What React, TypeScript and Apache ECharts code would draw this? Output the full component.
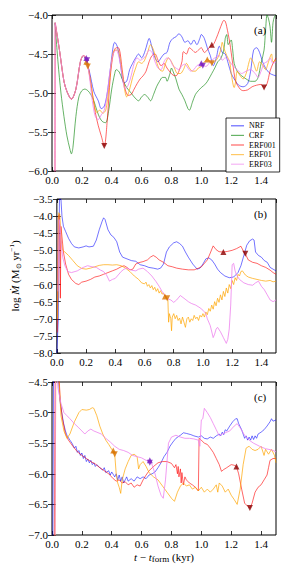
import React, { useEffect, useRef } from 'react';
import * as echarts from 'echarts';

const MODELS = ['NRF', 'CRF', 'ERF001', 'ERF01', 'ERF03'];
const PANEL_LABELS = ['(a)', '(b)', '(c)'];
const X_RANGE = [0, 1.5];
const Y_RANGES = [[-6.0, -4.0], [-8.0, -3.5], [-7.0, -4.5]];

// Panel (a)
const A_NRF = [[0.02,-4.1],[0.05,-4.45],[0.08,-4.85],[0.1,-4.98],[0.13,-5.08],[0.16,-4.95],[0.19,-4.6],[0.21,-4.52],[0.23,-4.6],[0.25,-4.72],[0.28,-4.98],[0.31,-5.1],[0.33,-5.2],[0.35,-5.17],[0.37,-5.0],[0.39,-4.7],[0.41,-4.4],[0.42,-4.35],[0.44,-4.42],[0.46,-4.65],[0.48,-4.87],[0.5,-4.85],[0.52,-4.7],[0.54,-4.62],[0.56,-4.55],[0.58,-4.5],[0.6,-4.55],[0.62,-4.48],[0.64,-4.35],[0.65,-4.3],[0.67,-4.42],[0.69,-4.55],[0.71,-4.6],[0.73,-4.55],[0.75,-4.5],[0.77,-4.48],[0.79,-4.35],[0.81,-4.3],[0.83,-4.28],[0.85,-4.24],[0.87,-4.28],[0.89,-4.35],[0.91,-4.33],[0.93,-4.38],[0.95,-4.32],[0.97,-4.38],[0.99,-4.3],[1.0,-4.25],[1.02,-4.3],[1.04,-4.42],[1.06,-4.52],[1.08,-4.65],[1.1,-4.55],[1.12,-4.4],[1.14,-4.48],[1.16,-4.5],[1.18,-4.62],[1.2,-4.75],[1.22,-4.82],[1.25,-4.9],[1.28,-4.92],[1.31,-4.88],[1.33,-4.72],[1.35,-4.45],[1.37,-4.42],[1.39,-4.48],[1.41,-4.6],[1.43,-4.68],[1.46,-4.75],[1.5,-4.78]];
const A_CRF = [[0.02,-4.1],[0.04,-4.6],[0.06,-5.0],[0.08,-5.3],[0.1,-5.55],[0.12,-5.72],[0.13,-5.78],[0.14,-5.7],[0.16,-5.3],[0.18,-5.05],[0.2,-4.97],[0.22,-4.95],[0.24,-4.97],[0.26,-5.02],[0.28,-5.1],[0.3,-5.22],[0.32,-5.32],[0.34,-5.37],[0.36,-5.38],[0.38,-5.22],[0.4,-4.95],[0.42,-4.75],[0.43,-4.7],[0.45,-4.73],[0.47,-4.82],[0.5,-4.93],[0.53,-5.0],[0.55,-5.05],[0.58,-5.1],[0.6,-5.05],[0.62,-5.02],[0.64,-5.05],[0.66,-5.1],[0.68,-5.02],[0.7,-4.92],[0.72,-4.85],[0.74,-4.8],[0.76,-4.8],[0.77,-4.85],[0.79,-4.75],[0.8,-4.68],[0.81,-4.72],[0.83,-4.82],[0.85,-4.95],[0.87,-5.02],[0.89,-5.1],[0.91,-5.2],[0.92,-5.22],[0.94,-5.12],[0.96,-5.02],[0.98,-4.97],[1.0,-4.93],[1.03,-4.88],[1.05,-4.82],[1.07,-4.75],[1.09,-4.68],[1.11,-4.6],[1.13,-4.56],[1.15,-4.45],[1.16,-4.3],[1.17,-4.25],[1.18,-4.38],[1.19,-4.35],[1.2,-4.32],[1.21,-4.45],[1.22,-4.62],[1.24,-4.72],[1.27,-4.78],[1.3,-4.82],[1.33,-4.85],[1.36,-4.85],[1.38,-4.8],[1.4,-4.62],[1.42,-4.45],[1.43,-4.2],[1.44,-4.0],[1.45,-4.05],[1.46,-4.15],[1.47,-4.35],[1.48,-4.1],[1.49,-4.02],[1.5,-4.0]];
const A_ERF001 = [[0.02,-6.5],[0.022,-4.1],[0.05,-4.45],[0.08,-4.85],[0.1,-4.98],[0.13,-5.08],[0.16,-4.95],[0.19,-4.6],[0.21,-4.52],[0.23,-4.55],[0.25,-4.75],[0.27,-5.0],[0.29,-5.25],[0.31,-5.42],[0.33,-5.55],[0.35,-5.68],[0.37,-5.35],[0.39,-4.8],[0.41,-4.5],[0.43,-4.42],[0.45,-4.43],[0.47,-4.7],[0.49,-4.95],[0.51,-5.03],[0.53,-5.02],[0.55,-4.95],[0.57,-4.88],[0.59,-4.82],[0.61,-4.78],[0.63,-4.72],[0.65,-4.6],[0.67,-4.52],[0.69,-4.5],[0.71,-4.58],[0.73,-4.65],[0.75,-4.62],[0.77,-4.68],[0.79,-4.73],[0.81,-4.77],[0.83,-4.78],[0.85,-4.72],[0.87,-4.6],[0.88,-4.47],[0.9,-4.5],[0.92,-4.42],[0.94,-4.45],[0.96,-4.48],[0.98,-4.45],[1.0,-4.42],[1.02,-4.48],[1.04,-4.45],[1.06,-4.4],[1.08,-4.38],[1.1,-4.3],[1.12,-4.2],[1.14,-4.1],[1.15,-4.07],[1.16,-4.08],[1.17,-4.15],[1.19,-4.35],[1.21,-4.62],[1.23,-4.85],[1.26,-4.95],[1.28,-4.97],[1.31,-4.96],[1.34,-4.92],[1.37,-4.9],[1.4,-4.89],[1.42,-4.93],[1.44,-4.88],[1.46,-4.72],[1.48,-4.62],[1.5,-4.55]];
const A_ERF01 = [[0.02,-4.1],[0.05,-4.45],[0.08,-4.85],[0.1,-4.98],[0.13,-5.08],[0.16,-4.95],[0.19,-4.6],[0.21,-4.52],[0.23,-4.58],[0.24,-4.65],[0.26,-4.88],[0.28,-5.12],[0.3,-5.25],[0.32,-5.22],[0.34,-5.26],[0.36,-5.22],[0.38,-4.95],[0.4,-4.58],[0.42,-4.45],[0.44,-4.45],[0.46,-4.62],[0.48,-4.88],[0.5,-5.05],[0.52,-4.95],[0.54,-4.8],[0.56,-4.68],[0.58,-4.6],[0.6,-4.62],[0.62,-4.58],[0.64,-4.48],[0.66,-4.38],[0.68,-4.45],[0.7,-4.6],[0.72,-4.7],[0.74,-4.72],[0.76,-4.62],[0.78,-4.55],[0.8,-4.6],[0.82,-4.68],[0.84,-4.75],[0.86,-4.75],[0.88,-4.7],[0.9,-4.62],[0.92,-4.68],[0.94,-4.72],[0.96,-4.72],[0.98,-4.68],[1.0,-4.66],[1.02,-4.6],[1.04,-4.57],[1.06,-4.6],[1.07,-4.62],[1.09,-4.6],[1.11,-4.55],[1.13,-4.45],[1.14,-4.35],[1.15,-4.42],[1.17,-4.52],[1.19,-4.6],[1.2,-4.75],[1.22,-4.93],[1.23,-4.85],[1.24,-4.72],[1.26,-4.78],[1.28,-4.82],[1.3,-4.75],[1.32,-4.6],[1.33,-4.55],[1.35,-4.62],[1.37,-4.72],[1.39,-4.6],[1.41,-4.64],[1.43,-4.7],[1.45,-4.6],[1.47,-4.5],[1.48,-4.6],[1.5,-4.58]];
const A_ERF03 = [[0.02,-6.5],[0.021,-4.1],[0.05,-4.45],[0.08,-4.85],[0.1,-4.98],[0.13,-5.08],[0.16,-4.95],[0.19,-4.6],[0.21,-4.52],[0.23,-4.56],[0.25,-4.78],[0.27,-5.1],[0.29,-5.3],[0.31,-5.34],[0.33,-5.28],[0.35,-5.22],[0.37,-5.0],[0.39,-4.7],[0.41,-4.5],[0.43,-4.45],[0.45,-4.55],[0.47,-4.78],[0.49,-4.95],[0.51,-4.9],[0.53,-4.78],[0.55,-4.62],[0.57,-4.55],[0.59,-4.58],[0.61,-4.56],[0.63,-4.52],[0.65,-4.45],[0.67,-4.48],[0.69,-4.6],[0.71,-4.68],[0.73,-4.7],[0.75,-4.6],[0.77,-4.55],[0.79,-4.57],[0.81,-4.65],[0.83,-4.68],[0.85,-4.7],[0.87,-4.65],[0.89,-4.63],[0.91,-4.68],[0.93,-4.72],[0.95,-4.7],[0.97,-4.65],[1.0,-4.63],[1.03,-4.66],[1.06,-4.6],[1.09,-4.55],[1.12,-4.52],[1.14,-4.58],[1.16,-4.55],[1.18,-4.57],[1.21,-4.65],[1.24,-4.7],[1.27,-4.75],[1.3,-4.72],[1.33,-4.7],[1.36,-4.75],[1.38,-4.8],[1.4,-4.72],[1.42,-4.62],[1.44,-4.6],[1.46,-4.55],[1.48,-4.62],[1.5,-4.6]];

// Panel (b)
const B_NRF = [[0.0,-8.0],[0.01,-7.0],[0.018,-3.5],[0.028,-3.5],[0.035,-4.0],[0.045,-4.3],[0.06,-4.45],[0.08,-4.65],[0.1,-4.8],[0.12,-4.9],[0.15,-4.93],[0.18,-4.9],[0.2,-4.87],[0.22,-4.9],[0.25,-4.88],[0.27,-4.7],[0.29,-4.4],[0.31,-4.15],[0.32,-4.05],[0.33,-4.1],[0.35,-4.4],[0.37,-4.55],[0.39,-4.62],[0.41,-4.75],[0.43,-5.05],[0.45,-5.2],[0.48,-5.25],[0.51,-5.3],[0.54,-5.32],[0.57,-5.42],[0.6,-5.45],[0.63,-5.5],[0.66,-5.52],[0.69,-5.55],[0.71,-5.52],[0.73,-5.4],[0.75,-5.05],[0.77,-4.9],[0.8,-4.78],[0.82,-4.75],[0.84,-4.8],[0.86,-4.88],[0.88,-5.05],[0.9,-5.2],[0.93,-5.4],[0.96,-5.55],[0.98,-5.52],[1.0,-5.4],[1.02,-5.25],[1.04,-5.22],[1.06,-5.28],[1.08,-5.4],[1.1,-5.55],[1.12,-5.65],[1.15,-5.75],[1.18,-5.8],[1.21,-5.78],[1.24,-5.65],[1.26,-5.45],[1.28,-5.15],[1.3,-4.85],[1.32,-4.72],[1.34,-4.67],[1.35,-4.7],[1.36,-5.05],[1.38,-5.15],[1.4,-5.2],[1.42,-5.3],[1.44,-5.35],[1.46,-5.5],[1.48,-5.55],[1.5,-5.6]];
const B_ERF001 = [[0.003,-7.4],[0.01,-4.0],[0.016,-3.95],[0.02,-4.4],[0.024,-6.4],[0.028,-4.3],[0.035,-4.6],[0.045,-5.05],[0.06,-5.4],[0.08,-5.7],[0.1,-5.85],[0.13,-5.97],[0.15,-6.0],[0.17,-5.93],[0.2,-5.9],[0.23,-5.85],[0.26,-5.78],[0.29,-5.75],[0.32,-5.7],[0.35,-5.65],[0.38,-5.6],[0.41,-5.55],[0.44,-5.48],[0.46,-5.45],[0.48,-5.5],[0.5,-5.57],[0.52,-5.55],[0.54,-5.4],[0.56,-5.36],[0.59,-5.33],[0.62,-5.28],[0.64,-5.2],[0.66,-5.15],[0.68,-5.2],[0.7,-5.28],[0.73,-5.35],[0.76,-5.45],[0.79,-5.48],[0.82,-5.52],[0.86,-5.55],[0.9,-5.57],[0.94,-5.57],[0.97,-5.52],[0.99,-5.48],[1.01,-5.38],[1.03,-5.28],[1.05,-5.08],[1.07,-4.87],[1.09,-4.98],[1.11,-5.04],[1.14,-5.05],[1.17,-5.03],[1.2,-5.0],[1.23,-4.95],[1.26,-4.88],[1.28,-5.05],[1.29,-5.1],[1.31,-5.28],[1.34,-5.35],[1.37,-5.38],[1.4,-5.45],[1.43,-5.5],[1.46,-5.58],[1.48,-5.65],[1.5,-5.7]];
const B_ERF01 = [[0.005,-7.0],[0.013,-3.9],[0.02,-3.95],[0.025,-4.3],[0.03,-4.7],[0.04,-5.0],[0.055,-5.05],[0.08,-5.15],[0.11,-5.3],[0.14,-5.45],[0.17,-5.53],[0.2,-5.55],[0.23,-5.52],[0.26,-5.48],[0.29,-5.44],[0.32,-5.42],[0.35,-5.42],[0.38,-5.43],[0.41,-5.42],[0.44,-5.45],[0.47,-5.52],[0.5,-5.62],[0.53,-5.75],[0.56,-5.85],[0.58,-5.95],[0.6,-5.98],[0.61,-5.93],[0.62,-6.05],[0.63,-6.0],[0.64,-6.1],[0.65,-6.03],[0.66,-6.15],[0.67,-6.08],[0.68,-6.2],[0.69,-6.12],[0.7,-6.25],[0.71,-6.18],[0.72,-6.28],[0.73,-6.25],[0.74,-6.35],[0.75,-6.38],[0.76,-6.45],[0.765,-7.1],[0.77,-6.85],[0.78,-7.0],[0.785,-7.35],[0.79,-6.95],[0.8,-6.85],[0.81,-7.0],[0.82,-6.9],[0.83,-7.05],[0.84,-6.98],[0.85,-7.15],[0.86,-6.95],[0.87,-7.1],[0.88,-7.25],[0.89,-7.0],[0.9,-6.95],[0.91,-7.1],[0.92,-7.0],[0.93,-7.05],[0.94,-6.9],[0.95,-7.0],[0.96,-6.95],[0.97,-7.05],[0.98,-6.9],[0.99,-6.95],[1.0,-6.85],[1.01,-6.95],[1.02,-6.8],[1.03,-6.88],[1.04,-6.7],[1.05,-6.78],[1.06,-6.6],[1.07,-6.72],[1.08,-6.5],[1.09,-6.62],[1.1,-6.4],[1.11,-6.52],[1.12,-6.3],[1.13,-6.45],[1.14,-6.2],[1.15,-6.35],[1.16,-6.1],[1.17,-6.25],[1.18,-6.0],[1.19,-6.12],[1.2,-5.88],[1.21,-6.0],[1.22,-5.8],[1.23,-5.88],[1.24,-5.7],[1.25,-5.75],[1.26,-5.62],[1.27,-5.6],[1.29,-5.72],[1.31,-5.78],[1.34,-5.82],[1.37,-5.85],[1.4,-5.88],[1.43,-5.9],[1.46,-5.88],[1.48,-5.92],[1.5,-5.9]];
const B_ERF03 = [[0.008,-6.2],[0.016,-4.1],[0.022,-4.3],[0.03,-4.8],[0.04,-5.2],[0.055,-5.45],[0.075,-5.62],[0.1,-5.65],[0.14,-5.6],[0.18,-5.5],[0.21,-5.45],[0.24,-5.48],[0.27,-5.5],[0.3,-5.58],[0.32,-5.62],[0.34,-5.72],[0.36,-5.9],[0.38,-5.85],[0.4,-5.82],[0.42,-5.72],[0.44,-5.62],[0.46,-5.55],[0.48,-5.52],[0.51,-5.58],[0.54,-5.6],[0.56,-5.55],[0.59,-5.52],[0.62,-5.62],[0.65,-5.75],[0.68,-5.92],[0.7,-6.05],[0.72,-6.2],[0.74,-6.32],[0.76,-6.42],[0.78,-6.45],[0.8,-6.52],[0.82,-6.45],[0.845,-6.32],[0.87,-6.4],[0.9,-6.5],[0.92,-6.55],[0.95,-6.6],[0.98,-6.68],[1.0,-6.75],[1.02,-6.85],[1.03,-7.0],[1.05,-7.2],[1.07,-7.55],[1.08,-7.45],[1.09,-7.3],[1.1,-7.25],[1.12,-7.38],[1.14,-7.55],[1.16,-7.72],[1.17,-7.6],[1.18,-7.3],[1.19,-6.6],[1.2,-5.42],[1.21,-5.38],[1.22,-5.6],[1.23,-5.72],[1.25,-5.85],[1.28,-5.95],[1.31,-6.0],[1.34,-6.02],[1.36,-5.95],[1.38,-5.9],[1.4,-6.05],[1.42,-6.15],[1.44,-6.3],[1.46,-6.45],[1.48,-6.5],[1.5,-6.45]];

// Panel (c)
const C_NRF = [[0.005,-7.5],[0.011,-4.0],[0.04,-4.0],[0.045,-4.5],[0.05,-4.7],[0.056,-4.85],[0.065,-5.0],[0.078,-5.18],[0.09,-5.3],[0.1,-5.37],[0.12,-5.45],[0.134,-5.5],[0.15,-5.58],[0.16,-5.55],[0.17,-5.65],[0.18,-5.62],[0.19,-5.7],[0.2,-5.66],[0.21,-5.75],[0.22,-5.7],[0.23,-5.8],[0.24,-5.76],[0.25,-5.82],[0.26,-5.78],[0.27,-5.85],[0.28,-5.82],[0.29,-5.88],[0.3,-5.85],[0.32,-5.9],[0.34,-5.94],[0.35,-5.9],[0.36,-5.98],[0.38,-5.95],[0.39,-6.02],[0.4,-5.97],[0.42,-6.05],[0.43,-6.0],[0.44,-6.1],[0.45,-6.02],[0.46,-6.12],[0.47,-6.05],[0.48,-6.15],[0.5,-6.05],[0.51,-6.12],[0.53,-6.08],[0.55,-6.12],[0.57,-6.05],[0.59,-6.08],[0.61,-6.05],[0.63,-6.08],[0.65,-6.02],[0.67,-6.0],[0.69,-5.97],[0.71,-5.9],[0.73,-5.82],[0.75,-5.72],[0.77,-5.65],[0.79,-5.55],[0.81,-5.48],[0.83,-5.42],[0.86,-5.37],[0.88,-5.33],[0.9,-5.34],[0.93,-5.36],[0.95,-5.38],[0.98,-5.4],[1.0,-5.38],[1.02,-5.42],[1.04,-5.43],[1.06,-5.4],[1.08,-5.42],[1.1,-5.38],[1.12,-5.35],[1.13,-5.38],[1.14,-5.32],[1.15,-5.36],[1.16,-5.28],[1.17,-5.3],[1.19,-5.22],[1.21,-5.15],[1.23,-5.1],[1.24,-5.1],[1.25,-5.18],[1.27,-5.28],[1.28,-5.35],[1.29,-5.42],[1.3,-5.38],[1.31,-5.45],[1.32,-5.4],[1.33,-5.45],[1.34,-5.38],[1.35,-5.44],[1.36,-5.38],[1.37,-5.42],[1.38,-5.35],[1.4,-5.32],[1.42,-5.28],[1.44,-5.22],[1.46,-5.15],[1.47,-5.1],[1.48,-5.14],[1.5,-5.12]];
const C_ERF001 = [[0.015,-7.5],[0.022,-4.0],[0.045,-4.3],[0.055,-4.8],[0.07,-5.1],[0.09,-5.35],[0.11,-5.45],[0.14,-5.55],[0.17,-5.64],[0.2,-5.7],[0.23,-5.75],[0.26,-5.8],[0.29,-5.84],[0.32,-5.9],[0.35,-5.95],[0.38,-6.0],[0.41,-6.08],[0.43,-6.12],[0.45,-6.1],[0.47,-6.15],[0.49,-6.13],[0.51,-6.18],[0.53,-6.15],[0.55,-6.22],[0.57,-6.18],[0.59,-6.2],[0.61,-6.1],[0.63,-6.02],[0.65,-5.95],[0.68,-5.88],[0.71,-5.82],[0.74,-5.8],[0.77,-5.8],[0.8,-5.83],[0.82,-5.9],[0.83,-5.85],[0.84,-6.0],[0.845,-5.88],[0.85,-6.05],[0.86,-5.92],[0.865,-6.15],[0.87,-5.98],[0.88,-6.18],[0.89,-6.05],[0.9,-6.1],[0.92,-6.15],[0.94,-6.18],[0.96,-6.22],[0.98,-6.28],[0.985,-5.42],[1.0,-5.45],[1.02,-5.5],[1.04,-5.52],[1.06,-5.58],[1.08,-5.65],[1.1,-5.75],[1.12,-5.85],[1.135,-5.96],[1.15,-5.93],[1.17,-5.9],[1.2,-5.85],[1.22,-5.86],[1.235,-5.88],[1.25,-6.0],[1.27,-6.25],[1.29,-6.48],[1.31,-6.53],[1.325,-6.56],[1.34,-6.48],[1.36,-6.3],[1.38,-6.22],[1.4,-6.18],[1.42,-6.1],[1.44,-6.02],[1.45,-5.9],[1.46,-5.78],[1.48,-5.75],[1.5,-5.75]];
const C_ERF01 = [[0.02,-7.5],[0.026,-4.0],[0.05,-4.6],[0.06,-5.05],[0.08,-5.3],[0.1,-5.42],[0.12,-5.35],[0.15,-5.15],[0.18,-5.0],[0.2,-4.95],[0.23,-4.96],[0.25,-4.95],[0.27,-4.92],[0.28,-4.93],[0.3,-5.05],[0.32,-5.22],[0.34,-5.35],[0.36,-5.45],[0.38,-5.52],[0.4,-5.6],[0.41,-5.63],[0.42,-5.68],[0.43,-6.0],[0.44,-6.15],[0.45,-6.22],[0.46,-6.32],[0.47,-6.1],[0.49,-5.92],[0.51,-5.8],[0.53,-5.7],[0.55,-5.68],[0.57,-5.72],[0.58,-5.92],[0.59,-5.85],[0.61,-5.8],[0.63,-5.88],[0.65,-5.98],[0.68,-6.05],[0.71,-6.1],[0.74,-6.2],[0.77,-6.3],[0.8,-6.4],[0.82,-6.45],[0.84,-6.3],[0.86,-6.2],[0.88,-6.15],[0.9,-6.2],[0.92,-6.18],[0.94,-6.25],[0.96,-6.22],[0.98,-6.28],[1.0,-6.22],[1.02,-6.3],[1.04,-6.25],[1.06,-6.3],[1.08,-6.25],[1.1,-6.18],[1.11,-6.3],[1.12,-6.15],[1.14,-6.2],[1.16,-6.3],[1.18,-6.25],[1.2,-6.35],[1.22,-6.42],[1.24,-6.5],[1.26,-6.25],[1.28,-5.85],[1.3,-5.58],[1.32,-5.55],[1.34,-5.6],[1.36,-5.62],[1.38,-5.6],[1.4,-5.55],[1.42,-5.7],[1.43,-5.6],[1.45,-5.68],[1.47,-5.6],[1.49,-5.7],[1.5,-5.82]];
const C_ERF03 = [[0.02,-7.5],[0.024,-4.0],[0.04,-4.6],[0.06,-4.85],[0.08,-5.0],[0.1,-5.05],[0.12,-5.1],[0.15,-5.18],[0.18,-5.25],[0.2,-5.3],[0.22,-5.35],[0.24,-5.3],[0.26,-5.27],[0.28,-5.3],[0.3,-5.32],[0.33,-5.35],[0.36,-5.42],[0.39,-5.48],[0.42,-5.55],[0.45,-5.6],[0.48,-5.62],[0.51,-5.65],[0.54,-5.7],[0.57,-5.72],[0.6,-5.74],[0.63,-5.78],[0.655,-5.8],[0.67,-5.85],[0.69,-6.0],[0.71,-6.2],[0.73,-6.35],[0.745,-6.4],[0.76,-6.1],[0.77,-5.8],[0.78,-5.5],[0.8,-5.4],[0.83,-5.37],[0.86,-5.4],[0.89,-5.42],[0.92,-5.42],[0.95,-5.43],[0.98,-5.45],[0.99,-5.55],[1.0,-5.12],[1.01,-5.1],[1.02,-4.93],[1.04,-5.0],[1.06,-5.08],[1.08,-5.18],[1.1,-5.28],[1.12,-5.38],[1.14,-5.35],[1.16,-5.33],[1.19,-5.3],[1.22,-5.22],[1.24,-5.18],[1.26,-5.25],[1.29,-5.37],[1.32,-5.45],[1.35,-5.5],[1.39,-5.55],[1.43,-5.59],[1.47,-5.61],[1.5,-5.64]];

// Event markers (up / down triangles) per panel and model
const MARK_UP = [
  { ERF001: [[1.07,-4.38]], ERF01: [[0.23,-4.6],[1.04,-4.57]], ERF03: [[0.23,-4.55],[1.0,-4.62]] },
  { ERF001: [[1.14,-5.05]], ERF01: [[0.74,-6.35]], ERF03: [] },
  { ERF001: [[1.235,-5.88]], ERF01: [[0.41,-5.62]], ERF03: [[0.655,-5.78]] },
];
const MARK_DOWN = [
  { ERF001: [[0.35,-5.68],[1.42,-4.93]], ERF01: [[0.24,-4.66],[1.07,-4.62]], ERF03: [[0.235,-4.58],[1.01,-4.65]] },
  { ERF001: [[1.29,-5.1]], ERF01: [[0.755,-6.4]], ERF03: [] },
  { ERF001: [[1.325,-6.56]], ERF01: [[0.42,-5.68]], ERF03: [[0.655,-5.82]] },
];

const PANELS = [
  { NRF: A_NRF, CRF: A_CRF, ERF001: A_ERF001, ERF01: A_ERF01, ERF03: A_ERF03 },
  { NRF: B_NRF, ERF001: B_ERF001, ERF01: B_ERF01, ERF03: B_ERF03 },
  { NRF: C_NRF, ERF001: C_ERF001, ERF01: C_ERF01, ERF03: C_ERF03 },
];

const LINE_COLORS: Record<string, string> = { NRF: '#0000ff', CRF: '#008000', ERF001: '#ff0000', ERF01: '#ffa500', ERF03: '#ee82ee' };
const LINE_OPACITY: Record<string, number> = { NRF: 0.55, CRF: 0.6, ERF001: 0.6, ERF01: 0.7, ERF03: 0.8 };
const MARK_COLORS: Record<string, string> = { ERF001: '#8b0000', ERF01: '#d97400', ERF03: '#7a1fc0' };

const FONT = '"Liberation Serif", "Times New Roman", serif';
const GRIDS = [
  { left: 52, top: 15, width: 224, height: 156 },
  { left: 52, top: 199, width: 224, height: 154 },
  { left: 52, top: 382, width: 224, height: 153 },
];

const fmt = (v: number) => v.toFixed(1).replace('-', '\u2212');

function buildOption() {
  const xAxis: any[] = [];
  const yAxis: any[] = [];
  const series: any[] = [];
  const graphic: any[] = [];
  GRIDS.forEach((g, i) => {
    const tick = { show: true, inside: true, length: 4, lineStyle: { color: '#000', width: 0.8 } };
    const xb: any = {
      type: 'value', gridIndex: i, min: X_RANGE[0], max: X_RANGE[1], interval: 0.2, position: 'bottom',
      axisLine: { show: false }, splitLine: { show: false }, axisTick: tick,
      axisLabel: { show: true, margin: 3, color: '#000', fontSize: 11, fontWeight: 'normal', fontFamily: FONT, formatter: fmt, showMaxLabel: false },
    };
    if (i === 2) {
      xb.name = '{i|t} \u2212 {i|t}{sub|form} (kyr)';
      xb.nameLocation = 'middle';
      xb.nameGap = 14;
      xb.nameTextStyle = {
        color: '#000', fontSize: 11, fontWeight: 'normal', fontFamily: FONT, lineHeight: 14,
        rich: {
          i: { fontStyle: 'italic', fontSize: 11, fontWeight: 'normal', fontFamily: FONT, lineHeight: 14, color: '#000' },
          sub: { fontSize: 9, fontWeight: 'normal', fontFamily: FONT, lineHeight: 9, verticalAlign: 'bottom', color: '#000' },
        },
      };
    }
    xAxis.push(xb);
    xAxis.push({
      type: 'value', gridIndex: i, min: X_RANGE[0], max: X_RANGE[1], interval: 0.2, position: 'top',
      axisLine: { show: false }, splitLine: { show: false }, axisTick: tick, axisLabel: { show: false },
    });
    const yl: any = {
      type: 'value', gridIndex: i, min: Y_RANGES[i][0], max: Y_RANGES[i][1], interval: 0.5, position: 'left',
      axisLine: { show: false }, splitLine: { show: false }, axisTick: tick,
      axisLabel: { show: true, margin: 4, color: '#000', fontSize: 11, fontWeight: 'normal', fontFamily: FONT, formatter: fmt },
    };
    if (i === 1) {
      yl.name = 'log {i|\u1E40} (M{sub|\u2299} yr{sup|\u22121})';
      yl.nameLocation = 'middle';
      yl.nameGap = 31;
      yl.nameTextStyle = {
        color: '#000', fontSize: 11, fontWeight: 'normal', fontFamily: FONT, lineHeight: 14,
        rich: {
          i: { fontStyle: 'italic', fontSize: 11, fontWeight: 'normal', fontFamily: FONT, lineHeight: 14, color: '#000' },
          sub: { fontSize: 7, fontWeight: 'normal', fontFamily: FONT, lineHeight: 7, verticalAlign: 'bottom', color: '#000' },
          sup: { fontSize: 7, fontWeight: 'normal', fontFamily: FONT, lineHeight: 7, verticalAlign: 'top', color: '#000' },
        },
      };
    }
    yAxis.push(yl);
    yAxis.push({
      type: 'value', gridIndex: i, min: Y_RANGES[i][0], max: Y_RANGES[i][1], interval: 0.5, position: 'right',
      axisLine: { show: false }, splitLine: { show: false }, axisTick: tick, axisLabel: { show: false },
    });

    const panel: any = PANELS[i];
    MODELS.forEach((m) => {
      if (!panel[m]) return;
      series.push({
        type: 'line', name: m, xAxisIndex: 2 * i, yAxisIndex: 2 * i, data: panel[m],
        symbol: 'none', smooth: i === 0 ? 0.3 : false,
        lineStyle: { color: LINE_COLORS[m], width: 1, opacity: LINE_OPACITY[m] },
        itemStyle: { color: LINE_COLORS[m], opacity: LINE_OPACITY[m] },
        z: 2,
      });
    });
    ['ERF001', 'ERF01', 'ERF03'].forEach((m) => {
      const up = (MARK_UP[i] as any)[m];
      const dn = (MARK_DOWN[i] as any)[m];
      if (up.length) series.push({
        type: 'scatter', name: m + ' start', xAxisIndex: 2 * i, yAxisIndex: 2 * i, data: up,
        symbol: 'triangle', symbolSize: 6, itemStyle: { color: MARK_COLORS[m] }, z: 5,
      });
      if (dn.length) series.push({
        type: 'scatter', name: m + ' end', xAxisIndex: 2 * i, yAxisIndex: 2 * i, data: dn,
        symbol: 'triangle', symbolRotate: 180, symbolSize: 6, itemStyle: { color: MARK_COLORS[m] }, z: 5,
      });
    });

    graphic.push({
      type: 'text', left: g.left + g.width - 22, top: g.top + 9,
      style: { text: PANEL_LABELS[i], fill: '#000', font: `normal 11px ${FONT}` }, z: 10,
    });
  });

  return {
    animation: false,
    backgroundColor: '#fff',
    grid: GRIDS.map((g) => ({ ...g, show: true, borderColor: '#000', borderWidth: 1, backgroundColor: 'transparent' })),
    xAxis, yAxis, series, graphic,
    legend: {
      data: MODELS, orient: 'vertical', left: 226, top: 118,
      padding: [3, 4, 3, 5], itemGap: 0, itemWidth: 13, itemHeight: 1.2, icon: 'rect',
      itemStyle: { opacity: 0.6 },
      backgroundColor: '#fff', borderColor: '#000', borderWidth: 0.8, borderRadius: 0,
      textStyle: { fontSize: 8, lineHeight: 9.6, fontWeight: 'normal', fontFamily: FONT, color: '#000' },
      selectedMode: false,
    },
  };
}

export default function App() {
  const ref = useRef<HTMLDivElement>(null);
  useEffect(() => {
    document.body.style.margin = '0';
    const chart = echarts.init(ref.current!, null, { renderer: 'svg' });
    chart.setOption(buildOption());
    return () => chart.dispose();
  }, []);
  return <div ref={ref} style={{ width: 287, height: 574 }} />;
}
